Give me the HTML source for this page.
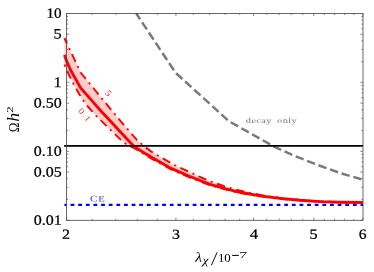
<!DOCTYPE html><html><head><meta charset="utf-8"><style>html,body{margin:0;padding:0;background:#fff}svg{display:block;will-change:transform}text{font-family:"Liberation Serif",serif}</style></head><body>
<svg width="374" height="272" viewBox="0 0 374 272">
<rect width="374" height="272" fill="#fff"/>
<polygon points="64.4,38.1 80.6,72.5 100.0,96.1 113.1,112.2 125.0,126.3 136.9,139.9 144.4,146.5 151.3,151.6 162.0,158.0 174.5,165.0 186.9,170.8 198.7,176.3 211.0,181.6 223.5,186.0 235.0,189.5 250.0,193.0 265.0,195.8 280.0,197.9 300.0,200.0 320.0,201.4 340.0,202.0 363.0,202.3 363.0,202.7 320.0,201.9 280.0,198.9 240.0,193.1 210.0,185.3 190.0,177.6 170.0,169.0 152.0,158.9 143.5,153.8 134.5,148.3 127.0,145.0 120.6,139.6 107.4,126.9 96.2,115.8 85.9,104.3 79.9,95.3 72.5,82.1 67.4,71.5 64.4,64.5" fill="#ffcccc"/>
<polyline points="136.2,13.4 175.6,72.8 229.0,121.3 252.0,134.2 273.2,146.2 295.2,156.1 318.2,165.2 341.4,173.4 361.4,179.3" fill="none" stroke="#7a7a7a" stroke-width="2.5" stroke-dasharray="8.50,3.74" stroke-dashoffset="1.50"/>
<line x1="64.4" y1="204.9" x2="363.0" y2="204.9" stroke="#0000ff" stroke-width="2.3" stroke-dasharray="3.8,3.83" stroke-dashoffset="1.43"/>
<polyline points="64.4,38.1 80.6,72.5 100.0,96.1 113.1,112.2 125.0,126.3 136.9,139.9 144.4,146.5 151.3,151.6 162.0,158.0 174.5,165.0 186.9,170.8 198.7,176.3 211.0,181.6 223.5,186.0 235.0,189.5 250.0,193.0 265.0,195.8 280.0,197.9 300.0,200.0 320.0,201.4 340.0,202.0 363.0,202.3" fill="none" stroke="#ff0000" stroke-width="1.9" stroke-dasharray="8.5,4.75,2,4.75" stroke-dashoffset="2.25"/>
<polyline points="64.4,64.5 67.4,71.5 72.5,82.1 79.9,95.3 85.9,104.3 96.2,115.8 107.4,126.9 120.6,139.6 127.0,145.0 134.5,148.3 143.5,153.8 152.0,158.9 170.0,169.0 190.0,177.6 210.0,185.3 240.0,193.1 280.0,198.9 320.0,201.9 363.0,202.7" fill="none" stroke="#ff0000" stroke-width="1.9" stroke-dasharray="8.5,4.75,2,4.75" stroke-dashoffset="13.05"/>
<polyline points="64.4,55.0 67.4,62.9 70.3,69.5 80.6,87.9 91.6,100.4 100.0,110.0 109.4,120.1 120.0,131.5 127.9,140.0 131.5,143.8 134.5,146.7 138.0,149.0 143.5,152.4 152.0,157.6 170.0,167.8 190.0,176.5 210.0,184.3 225.0,188.6 240.0,192.3 260.0,195.9 280.0,198.4 300.0,200.3 320.0,201.6 340.0,202.2 363.0,202.5" fill="none" stroke="#ff0000" stroke-width="2.9" stroke-linejoin="round"/>
<line x1="64.1" y1="145.9" x2="363.0" y2="145.9" stroke="#000" stroke-width="1.7"/>
<rect x="66.5" y="13.4" width="296.5" height="206.9" fill="none" stroke="#444" stroke-width="0.8"/>
<path d="M66.5,220.30h2.7 M363.0,220.30h-2.7 M66.5,199.54h1.6 M363.0,199.54h-1.6 M66.5,187.39h1.6 M363.0,187.39h-1.6 M66.5,178.78h1.6 M363.0,178.78h-1.6 M66.5,172.09h2.7 M363.0,172.09h-2.7 M66.5,166.63h1.6 M363.0,166.63h-1.6 M66.5,162.02h1.6 M363.0,162.02h-1.6 M66.5,158.02h1.6 M363.0,158.02h-1.6 M66.5,154.49h1.6 M363.0,154.49h-1.6 M66.5,151.33h2.7 M363.0,151.33h-2.7 M66.5,130.57h1.6 M363.0,130.57h-1.6 M66.5,118.43h1.6 M363.0,118.43h-1.6 M66.5,109.81h1.6 M363.0,109.81h-1.6 M66.5,103.13h2.7 M363.0,103.13h-2.7 M66.5,97.67h1.6 M363.0,97.67h-1.6 M66.5,93.05h1.6 M363.0,93.05h-1.6 M66.5,89.05h1.6 M363.0,89.05h-1.6 M66.5,85.52h1.6 M363.0,85.52h-1.6 M66.5,82.37h2.7 M363.0,82.37h-2.7 M66.5,61.61h1.6 M363.0,61.61h-1.6 M66.5,49.46h1.6 M363.0,49.46h-1.6 M66.5,40.84h1.6 M363.0,40.84h-1.6 M66.5,34.16h2.7 M363.0,34.16h-2.7 M66.5,28.70h1.6 M363.0,28.70h-1.6 M66.5,24.08h1.6 M363.0,24.08h-1.6 M66.5,20.08h1.6 M363.0,20.08h-1.6 M66.5,16.56h1.6 M363.0,16.56h-1.6 M66.50,220.3v-2.7 M66.50,13.4v2.7 M92.22,220.3v-1.6 M92.22,13.4v1.6 M115.71,220.3v-1.6 M115.71,13.4v1.6 M137.31,220.3v-1.6 M137.31,13.4v1.6 M157.31,220.3v-1.6 M157.31,13.4v1.6 M175.93,220.3v-2.7 M175.93,13.4v2.7 M193.35,220.3v-1.6 M193.35,13.4v1.6 M209.71,220.3v-1.6 M209.71,13.4v1.6 M225.14,220.3v-1.6 M225.14,13.4v1.6 M239.73,220.3v-1.6 M239.73,13.4v1.6 M253.57,220.3v-2.7 M253.57,13.4v2.7 M266.74,220.3v-1.6 M266.74,13.4v1.6 M279.29,220.3v-1.6 M279.29,13.4v1.6 M291.29,220.3v-1.6 M291.29,13.4v1.6 M302.78,220.3v-1.6 M302.78,13.4v1.6 M313.79,220.3v-2.7 M313.79,13.4v2.7 M324.38,220.3v-1.6 M324.38,13.4v1.6 M334.56,220.3v-1.6 M334.56,13.4v1.6 M344.38,220.3v-1.6 M344.38,13.4v1.6 M353.85,220.3v-1.6 M353.85,13.4v1.6 M363.00,220.3v-2.7 M363.00,13.4v2.7" stroke="#555" stroke-width="0.7" fill="none"/>
<text transform="translate(46.52,17.86) rotate(0.05) scale(1.0607,1)" font-size="14.22" fill="#000" stroke="#000" stroke-width="0.25">10</text>
<text transform="translate(53.52,38.62) rotate(0.05) scale(1.1257,1)" font-size="14.44" fill="#000" stroke="#000" stroke-width="0.25">5</text>
<text transform="translate(53.51,86.97) rotate(0.05) scale(1.1232,1)" font-size="14.55" fill="#000" stroke="#000" stroke-width="0.25">1</text>
<text transform="translate(33.66,107.52) rotate(0.05) scale(1.1325,1)" font-size="14.12" fill="#000" stroke="#000" stroke-width="0.25">0.50</text>
<text transform="translate(33.66,155.72) rotate(0.05) scale(1.1325,1)" font-size="14.12" fill="#000" stroke="#000" stroke-width="0.25">0.10</text>
<text transform="translate(33.66,176.48) rotate(0.05) scale(1.1325,1)" font-size="14.12" fill="#000" stroke="#000" stroke-width="0.25">0.05</text>
<text transform="translate(33.66,224.69) rotate(0.05) scale(1.1333,1)" font-size="14.12" fill="#000" stroke="#000" stroke-width="0.25">0.01</text>
<text transform="translate(62.08,238.70) rotate(0.05) scale(1.1478,1)" font-size="13.94" fill="#000" stroke="#000" stroke-width="0.25">2</text>
<text transform="translate(172.08,238.66) rotate(0.05) scale(1.1582,1)" font-size="13.73" fill="#000" stroke="#000" stroke-width="0.25">3</text>
<text transform="translate(249.66,238.80) rotate(0.05) scale(1.1654,1)" font-size="14.39" fill="#000" stroke="#000" stroke-width="0.25">4</text>
<text transform="translate(309.62,238.66) rotate(0.05) scale(1.1620,1)" font-size="13.98" fill="#000" stroke="#000" stroke-width="0.25">5</text>
<text transform="translate(358.68,238.66) rotate(0.05) scale(1.1106,1)" font-size="14.03" fill="#000" stroke="#000" stroke-width="0.25">6</text>
<text transform="translate(195.29,261.80) rotate(0.05) scale(1.1552,1)" font-size="13.33" fill="#000" font-style="italic">λ</text>
<text transform="translate(202.41,264.08) rotate(0.05) scale(1.1867,1)" font-size="11.70" fill="#000" font-style="italic">χ</text>
<line x1="211.4" y1="265.3" x2="217.1" y2="252.4" stroke="#000" stroke-width="0.95"/>
<text transform="translate(217.90,261.68) rotate(0.05) scale(1.1034,1)" font-size="11.70" fill="#000">10</text>
<rect x="232.2" y="254.9" width="6.6" height="1.0" fill="#000"/>
<text transform="translate(239.27,258.00) rotate(0.05) scale(1.7251,1)" font-size="9.16" fill="#000">7</text>
<g transform="translate(0,0)">
</g>
<text transform="translate(18.90,132.15) rotate(-90) scale(0.8734,1)" font-size="14.85" fill="#000">Ω</text>
<text transform="translate(18.90,121.82) rotate(-90) scale(1.0665,1)" font-size="16.55" fill="#000" font-style="italic">h</text>
<text transform="translate(12.60,112.66) rotate(-90) scale(1.4474,1)" font-size="8.64" fill="#000">2</text>
<text transform="translate(245.83,123.09) rotate(0.05) scale(1.3969,1)" font-size="7.47" fill="#707070" letter-spacing="0.250">decay</text>
<text transform="translate(277.08,123.09) rotate(0.05) scale(1.3999,1)" font-size="7.47" fill="#707070" letter-spacing="0.250">only</text>
<text transform="translate(90.05,201.51) rotate(0.05) scale(1.2970,1)" font-size="8.66" fill="#2a2aff">C</text>
<text transform="translate(98.28,201.40) rotate(0.05) scale(1.3291,1)" font-size="8.09" fill="#2a2aff">E</text>
<text transform="translate(108.40,93.40) rotate(50.0) scale(1.100,1)" x="-2.35" y="2.91" font-size="9.02" fill="#ff2020">5</text>
<text transform="translate(81.60,111.00) rotate(50.8) scale(1.100,1)" x="-2.22" y="2.91" font-size="8.89" fill="#ff2020">0</text>
<text transform="translate(83.00,116.30) rotate(50.8) scale(1.000,1)" x="-0.94" y="0.34" font-size="7.50" fill="#ff2020">.</text>
<text transform="translate(87.80,118.60) rotate(50.8) scale(1.100,1)" x="-2.23" y="2.80" font-size="8.48" fill="#ff2020">1</text>
</svg></body></html>
